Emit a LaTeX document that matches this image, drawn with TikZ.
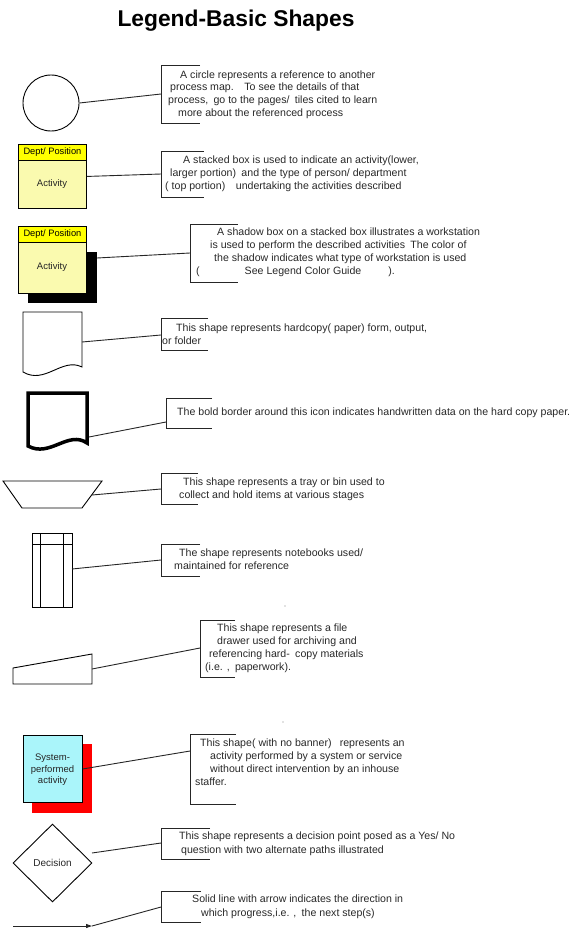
\documentclass[tikz,border=0pt]{standalone}
\usepackage{fontspec}
\setmainfont{Liberation Sans}
\usetikzlibrary{shapes.geometric, arrows.meta}
\definecolor{hdryellow}{RGB}{255,255,0}
\definecolor{bodyyellow}{RGB}{250,250,175}
\definecolor{syscyan}{RGB}{170,245,250}
\definecolor{txtgray}{RGB}{40,40,40}
\begin{document}
\begin{tikzpicture}[x=1pt,y=-1pt,
  txt/.style={anchor=north west, inner sep=0pt, align=left, text=txtgray, font=\fontsize{10.6}{13.3}\selectfont},
  brk/.style={draw=black!85, line width=1pt},
  conn/.style={draw=black!85, line width=0.9pt},
  shp/.style={draw=black, line width=0.9pt},
  lbl/.style={inner sep=0pt, text=black!85, font=\fontsize{9.5}{11.5}\selectfont, align=center}]
\useasboundingbox (0,0) rectangle (577,934);

% title
\node[font=\bfseries\fontsize{22.8}{26}\selectfont, anchor=base] (title) at (236,27) {Legend-Basic Shapes};

% row 1 circle
\node[circle, shp, minimum size=56pt, inner sep=0pt] (circ) at (51,103) {};
\coordinate (bA) at (161,94);
\draw[conn] (circ.east) -- (bA);
\draw[brk] (200,66) -- (161,66) -- (161,123) -- (200,123);
\node[txt, font=\fontsize{10.6}{12.8}\selectfont] (tA) at (168,70.2) {\hspace*{12pt}A circle represents a reference to another\\ \hspace*{2pt}process map.\quad To see the details of that\\ process,\enspace go to the pages/\enspace tiles cited to learn\\ \hspace*{10pt}more about the referenced process};

% row 2 stacked box
\node[shp, fill=bodyyellow, anchor=north west, minimum width=68pt, minimum height=64pt, inner sep=0pt] (boxB) at (18,144) {};
\node[shp, fill=hdryellow, anchor=north west, minimum width=68pt, minimum height=16pt, inner sep=0pt, font=\fontsize{9.3}{11}\selectfont] (hdrB) at (18,144) {Dept/ Position};
\node[lbl] (actB) at (52,184) {Activity};
\coordinate (bB) at (161,174);
\draw[conn] (boxB.east) -- (bB);
\draw[brk] (204,151) -- (161,151) -- (161,197) -- (204,197);
\node[txt] (tB) at (165,155.2) {\hspace*{18pt}A stacked box is used to indicate an activity(lower,\\ \hspace*{5pt}larger portion)\enspace and the type of person/ department\\ ( top portion)\quad undertaking the activities described};

% row 3 shadow box
\node[fill=black, anchor=north west, minimum width=69pt, minimum height=51pt, inner sep=0pt] (shadC) at (28,252) {};
\node[shp, fill=bodyyellow, anchor=north west, minimum width=68pt, minimum height=67pt, inner sep=0pt] (boxC) at (18,226) {};
\node[shp, fill=hdryellow, anchor=north west, minimum width=68pt, minimum height=16pt, inner sep=0pt, font=\fontsize{9.3}{11}\selectfont] (hdrC) at (18,226) {Dept/ Position};
\node[lbl] (actC) at (52,267) {Activity};
\coordinate (sC) at (97,258);
\coordinate (bC) at (190,253);
\draw[conn] (sC) -- (bC);
\draw[brk] (238,224) -- (190,224) -- (190,282) -- (238,282);
\node[txt] (tC) at (196,227.2) {\hspace*{21pt}A shadow box on a stacked box illustrates a workstation\\ \hspace*{14pt}is used to perform the described activities\enspace The color of\\ \hspace*{18pt}the shadow indicates what type of workstation is used\\ (\hspace*{45pt}See Legend Color Guide\hspace*{27pt}).};

% row 4 document
\draw[shp] (23,312) -- (82,312) -- (82,367) .. controls (62,357) and (45,385) .. (23,372) -- cycle;
\coordinate (dD) at (82,342);
\coordinate (bD) at (161,335);
\draw[conn] (dD) -- (bD);
\draw[brk] (208,318) -- (161,318) -- (161,350) -- (208,350);
\node[txt] (tD) at (162,323.2) {\hspace*{14pt}This shape represents hardcopy( paper) form, output,\\ or folder};

% row 5 bold document
\draw[draw=black, line width=3.5pt] (28,393) -- (87,393) -- (87,443) .. controls (68,430) and (50,458) .. (28,446) -- cycle;
\coordinate (dE) at (89,437);
\coordinate (bE) at (166,422);
\draw[conn] (dE) -- (bE);
\draw[brk] (212,398) -- (166,398) -- (166,428) -- (212,428);
\node[txt] (tE) at (177,407.2) {The bold border around this icon indicates handwritten data on the hard copy paper.};

% row 6 tray
\draw[shp] (3,481) -- (102,481) -- (82,508) -- (22,508) -- cycle;
\coordinate (dF) at (92,495);
\coordinate (bF) at (161,489);
\draw[conn] (dF) -- (bF);
\draw[brk] (198,473) -- (161,473) -- (161,504) -- (198,504);
\node[txt] (tF) at (179,477.2) {\hspace*{4pt}This shape represents a tray or bin used to\\ collect and hold items at various stages};

% row 7 notebook
\draw[shp] (32,533) rectangle (72,607);
\draw[shp] (40,533) -- (40,607);
\draw[shp] (63,533) -- (63,607);
\draw[shp] (32,544) -- (72,544);
\coordinate (dG) at (72,569);
\coordinate (bG) at (161,560);
\draw[conn] (dG) -- (bG);
\draw[brk] (200,544) -- (161,544) -- (161,576) -- (200,576);
\node[txt] (tG) at (174,548.2) {\hspace*{5pt}The shape represents notebooks used/\\ maintained for reference};
\fill[black!50] (285,606) circle (0.6pt);

% row 8 file drawer
\draw[shp] (13,668) -- (92,654) -- (92,684) -- (13,684) -- cycle;
\coordinate (dH) at (92,669);
\coordinate (bH) at (200,648);
\draw[conn] (dH) -- (bH);
\draw[brk] (235,620) -- (200,620) -- (200,677) -- (235,677);
\node[txt] (tH) at (205,623.2) {\hspace*{12pt}This shape represents a file\\ \hspace*{12pt}drawer used for archiving and\\ \hspace*{4pt}referencing hard-\enspace copy materials\\ (i.e. ,\enspace paperwork).};
\fill[black!50] (283,722) circle (0.6pt);

% row 9 system activity
\node[fill=red, anchor=north west, minimum width=60pt, minimum height=69pt, inner sep=0pt] (redI) at (32,744) {};
\node[shp, fill=syscyan, anchor=north west, minimum width=59pt, minimum height=67pt, inner sep=0pt] (boxI) at (23,735) {};
\node[lbl] (sysI) at (52.5,770) {System-\\performed\\activity};
\coordinate (bI) at (190,751);
\draw[conn] (boxI.east) -- (bI);
\draw[brk] (236,734) -- (190,734) -- (190,804) -- (236,804);
\node[txt] (tI) at (195,738.2) {\hspace*{5pt}This shape( with no banner)\enspace\ represents an\\ \hspace*{15pt}activity performed by a system or service\\ \hspace*{15pt}without direct intervention by an inhouse\\ staffer.};

% row 10 decision
\node[diamond, shp, minimum width=79pt, minimum height=78pt, inner sep=0pt, text=black!85, font=\fontsize{10}{12}\selectfont] (dec) at (52.5,863) {Decision};
\coordinate (dJ) at (92,853);
\coordinate (bJ) at (161,843);
\draw[conn] (dJ) -- (bJ);
\draw[brk] (210,828) -- (161,828) -- (161,859) -- (210,859);
\node[txt, font=\fontsize{10.6}{14}\selectfont] (tJ) at (179,831.2) {This shape represents a decision point posed as a Yes/ No\\ \hspace*{2pt}question with two alternate paths illustrated};

% row 11 arrow
\coordinate (aS) at (13,926);
\coordinate (aE) at (92,926);
\draw[conn, -{Triangle[length=6pt,width=4pt]}] (aS) -- (aE);
\coordinate (bK) at (161,907);
\draw[conn] (bK) -- (aE);
\draw[brk] (201,891) -- (161,891) -- (161,922) -- (201,922);
\node[txt, font=\fontsize{10.6}{14}\selectfont] (tK) at (192,894.2) {Solid line with arrow indicates the direction in\\ \hspace*{9pt}which progress,i.e. ,\enspace the next step(s)};
\end{tikzpicture}
\end{document}
